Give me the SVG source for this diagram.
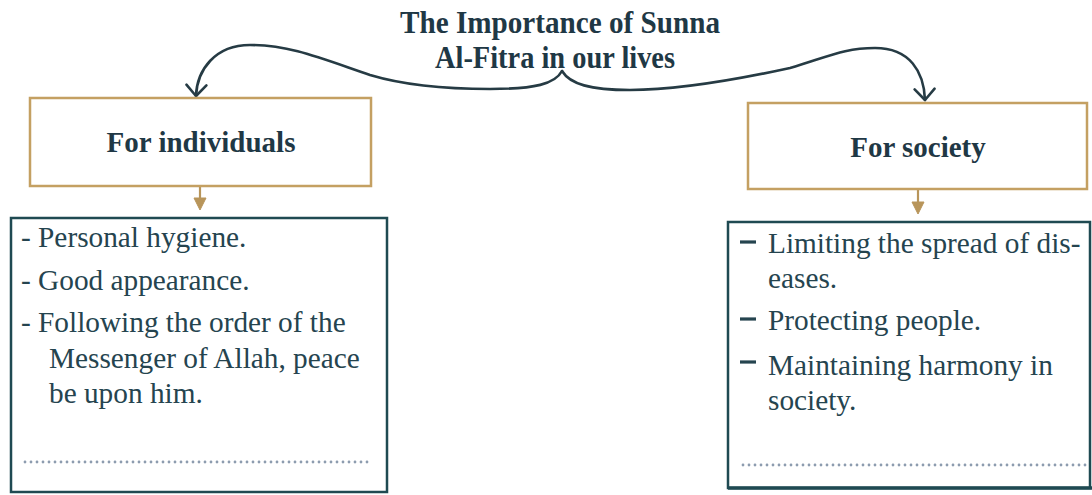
<svg xmlns="http://www.w3.org/2000/svg" width="1092" height="495" viewBox="0 0 1092 495">
  <defs>
    <style>
      .title { font-family: "Liberation Serif", "Times New Roman", serif; font-weight: bold; font-size: 32px; fill: #1f3845; }
      .head { font-family: "Liberation Serif", "Times New Roman", serif; font-weight: bold; font-size: 29px; fill: #1f3845; }
      .item { font-family: "Liberation Serif", "Times New Roman", serif; font-size: 29.3px; fill: #25444f; }
      .headbox { fill: #ffffff; stroke: #c4a062; stroke-width: 2.5; }
      .listbox { fill: #ffffff; stroke: #1f4a52; stroke-width: 2.5; }
      .brace { fill: none; stroke: #263b44; stroke-width: 2.6; stroke-linecap: round; }
      .down { fill: none; stroke: #b8955a; stroke-width: 2.2; }
      .tip { fill: #b8955a; stroke: #b8955a; stroke-width: 1; stroke-linejoin: round; }
      .dots { stroke: #8d9caf; stroke-width: 2.8; stroke-linecap: round; stroke-dasharray: 0 6; }
      .bar { stroke: #25444f; stroke-width: 3.2; }
    </style>
    <!-- open V head, drawn pointing along +x with its tip at the origin -->
    <marker id="openHead" viewBox="-16 -12 20 24" refX="0" refY="0" markerWidth="20" markerHeight="24" markerUnits="userSpaceOnUse" orient="auto">
      <path d="M-11,-10 L0,0 L-11,10" fill="none" stroke="#263b44" stroke-width="2.6" stroke-linecap="round" stroke-linejoin="round"/>
    </marker>
  </defs>

  <rect width="1092" height="495" fill="#ffffff"/>

  <!-- heading -->
  <g id="title">
    <text class="title" x="560" y="33" text-anchor="middle" textLength="320" lengthAdjust="spacingAndGlyphs">The Importance of Sunna</text>
    <text class="title" x="555" y="68" text-anchor="middle" textLength="240" lengthAdjust="spacingAndGlyphs">Al-Fitra in our lives</text>
  </g>

  <!-- connectors -->
  <g id="connectors">
    <path class="brace" d="M562,71 C555,84 535,89 490,89 C440,89 400,84 370,75 C320,58 290,45 250,45 C215,45 197,70 196,96" marker-end="url(#openHead)"/>
    <path class="brace" d="M562,71 C570,84 590,90 630,90 C680,90 735,80 790,68 C830,56 845,48 875,48 C910,48 924,72 925,100" marker-end="url(#openHead)"/>
    <line class="down" x1="200" y1="186" x2="200" y2="200"/>
    <path class="tip" d="M194,198 L206,198 L200,210 Z"/>
    <line class="down" x1="918" y1="189" x2="918" y2="203"/>
    <path class="tip" d="M912,202 L924,202 L918,214 Z"/>
  </g>

  <!-- individuals -->
  <g id="individuals">
    <rect class="headbox" x="30" y="98" width="341" height="88"/>
    <text class="head" x="201" y="152" text-anchor="middle">For individuals</text>
  </g>

  <g id="individuals-list">
    <rect class="listbox" x="11" y="218" width="376" height="274"/>
    <text class="item" x="21" y="247">- Personal hygiene.</text>
    <text class="item" x="21" y="290">- Good appearance.</text>
    <text class="item" x="21" y="332">- Following the order of the</text>
    <text class="item" x="49" y="368">Messenger of Allah, peace</text>
    <text class="item" x="49" y="403">be upon him.</text>
    <line class="dots" x1="25" y1="462" x2="373" y2="462"/>
  </g>

  <!-- society -->
  <g id="society">
    <rect class="headbox" x="748" y="103" width="339" height="86"/>
    <text class="head" x="918" y="157" text-anchor="middle">For society</text>
  </g>

  <g id="society-list">
    <rect class="listbox" x="728" y="222" width="362" height="266"/>
    <line x1="728" y1="488" x2="1092" y2="488" stroke="#1f4a52" stroke-width="3.5"/>
    <line class="bar" x1="740" y1="242" x2="756" y2="242"/>
    <text class="item" x="768" y="253">Limiting the spread of dis-</text>
    <text class="item" x="768" y="288">eases.</text>
    <line class="bar" x1="740" y1="319" x2="756" y2="319"/>
    <text class="item" x="768" y="330">Protecting people.</text>
    <line class="bar" x1="740" y1="362" x2="756" y2="362"/>
    <text class="item" x="768" y="375">Maintaining harmony in</text>
    <text class="item" x="768" y="410">society.</text>
    <line class="dots" x1="743" y1="465" x2="1090" y2="465"/>
  </g>
</svg>
